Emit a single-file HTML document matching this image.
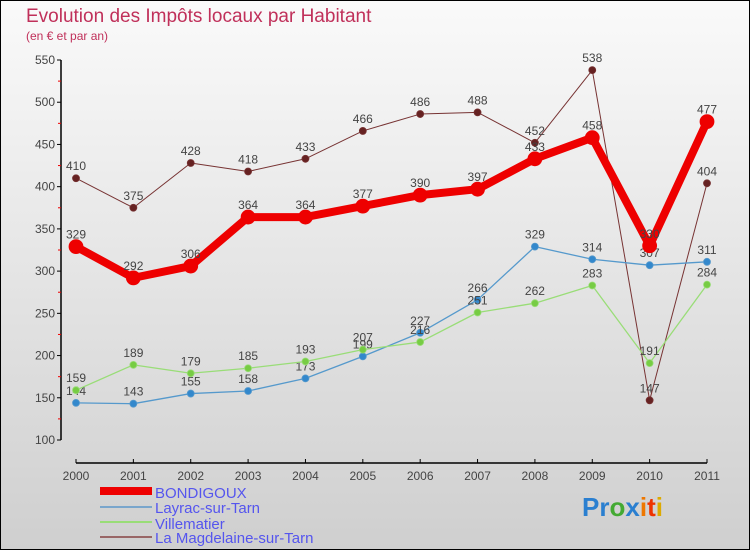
<!DOCTYPE html>
<html><head><meta charset="utf-8"><style>
body{margin:0;width:750px;height:550px;overflow:hidden}
svg{display:block;font-family:"Liberation Sans",sans-serif}
</style></head><body>
<svg id="c" width="750" height="550">
<defs><linearGradient id="bg" x1="0" y1="0" x2="0" y2="1"><stop offset="0" stop-color="#fafafa"/><stop offset="1" stop-color="#cfcfcf"/></linearGradient></defs>
<rect x="0.5" y="0.5" width="749" height="549" fill="url(#bg)" stroke="#000"/>
<text x="26" y="22" font-size="19" fill="#c0305a">Evolution des Impôts locaux par Habitant</text>
<text x="26" y="40" font-size="12" fill="#c0305a">(en € et par an)</text>
<g id="axes"></g><g id="series"></g>
<g>
<rect x="100" y="487" width="52" height="8" fill="#e00"/>
<text x="155" y="498" font-size="15" fill="#5555ee">BONDIGOUX</text>
<line x1="100" y1="507" x2="152" y2="507" stroke="#7aa6cc" stroke-width="2"/>
<text x="155" y="513" font-size="15" fill="#5555ee">Layrac-sur-Tarn</text>
<line x1="100" y1="522" x2="152" y2="522" stroke="#99dd77" stroke-width="2"/>
<text x="155" y="529" font-size="15" fill="#5555ee">Villematier</text>
<line x1="100" y1="537" x2="152" y2="537" stroke="#996666" stroke-width="2"/>
<text x="155" y="543" font-size="15" fill="#5555ee">La Magdelaine-sur-Tarn</text>
</g>
<text x="582" y="516" font-size="26" font-weight="bold"><tspan fill="#2a7fd0">Pr</tspan><tspan fill="#44aa33">o</tspan><tspan fill="#2a7fd0">x</tspan><tspan fill="#ee7700">i</tspan><tspan fill="#ee3300">t</tspan><tspan fill="#ddaa00">i</tspan></text>
</svg>
<script>
const years=[2000,2001,2002,2003,2004,2005,2006,2007,2008,2009,2010,2011];
const bondigoux=[329,292,306,364,364,377,390,397,433,458,330,477];
const layrac=[144,143,155,158,173,199,227,266,329,314,307,311];
const villematier=[159,189,179,185,193,207,216,251,262,283,191,284];
const magdelaine=[410,375,428,418,433,466,486,488,452,538,147,404];
const yTicks=[100,150,200,250,300,350,400,450,500,550];
const NS="http://www.w3.org/2000/svg";
const X=i=>76+i*(707-76)/11;
const Y=v=>440-(v-100)*380/450;
function mk(t,a,p){const e=document.createElementNS(NS,t);for(const k in a)e.setAttribute(k,a[k]);p.appendChild(e);return e;}
const ax=document.getElementById('axes');
const yl=mk('line',{x1:61,y1:60,x2:61,y2:440,stroke:'#000','stroke-width':1.5},ax);


yTicks.forEach(v=>{
 mk('line',{x1:57,y1:Y(v),x2:61,y2:Y(v),stroke:'#000'},ax);
 if(v<550)mk('line',{x1:58,y1:Y(v+25),x2:61,y2:Y(v+25),stroke:'#e00'},ax);
 const t=mk('text',{x:55,y:Y(v)+4,'font-size':12,fill:'#444','text-anchor':'end'},ax);t.textContent=v;
 
 
});
const xl=mk('line',{x1:76,y1:463,x2:707,y2:463,stroke:'#000','stroke-width':1.5},ax);


years.forEach((y,i)=>{
 mk('line',{x1:X(i),y1:459,x2:X(i),y2:463,stroke:'#000'},ax);
 const t=mk('text',{x:X(i),y:480,'font-size':12,fill:'#444','text-anchor':'middle'},ax);t.textContent=y;
 
 
});
const sg=document.getElementById('series');
function draw(vals,name,color,dot,w,r){
 const g=mk('g',{},sg);
 
 
 const pl=mk('polyline',{points:vals.map((v,i)=>X(i)+','+Y(v)).join(' '),fill:'none',stroke:color,'stroke-width':w,'stroke-linejoin':'round'},g);
 
 
 vals.forEach((v,i)=>{
  const c=mk('circle',{cx:X(i),cy:Y(v),r:r,fill:dot,stroke:color,'stroke-width':0.8},g);
  
  
  const t=mk('text',{x:X(i),y:Y(v)-8,'font-size':12,fill:'#444','text-anchor':'middle'},g);t.textContent=v;
  
  
 });
}
draw(magdelaine,'magdelaine','#773333','#662222',1,3.5);
draw(layrac,'layrac','#5599cc','#3388cc',1.3,3.5);
draw(villematier,'villematier','#99dd77','#77cc44',1.3,3.5);
draw(bondigoux,'bondigoux','#ee0000','#ee0000',8,7);
</script>
</body></html>
